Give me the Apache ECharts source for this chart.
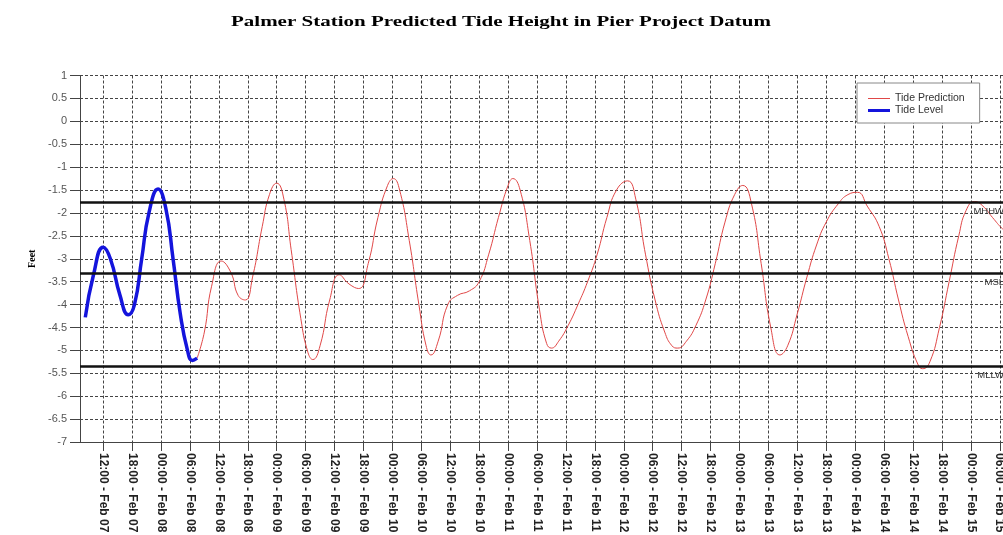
<!DOCTYPE html>
<html><head><meta charset="utf-8">
<script src="https://cdn.jsdelivr.net/npm/echarts@6/dist/echarts.min.js"></script>
<style>html,body{margin:0;padding:0;background:#fff}#c{width:1003px;height:535px}</style>
</head><body><div id="c"></div>
<script>
// hours counted from 00:00 Feb 07
const levelHours = [8.3, 10, 12, 13.5, 15.5, 17.2, 18.5, 20, 21.5, 23.4, 25, 26.5, 28, 29.5, 30.5, 31.5];
const levelFeet  = [-4.28, -3.35, -2.75, -3.0, -3.8, -4.22, -4.0, -3.0, -2.0, -1.48, -1.9, -3.0, -4.2, -5.0, -5.22, -5.17];

const predHours = [31.5, 33, 34.5, 36.5, 38.5, 40, 41.5, 43, 45, 46.5, 48, 49.5, 51, 53, 54.5, 55.5, 57, 59, 61, 63, 65, 67, 69, 71, 72.2, 73.5, 75.5, 77.5, 79, 80, 81.5, 83.5, 85.5, 88, 90, 92, 94, 96, 97, 98.5, 100.5, 102.5, 104, 105, 106.5, 108.5, 110.5, 112.5, 114.5, 116.5, 118.5, 120.8, 122.5, 124.5, 126.5, 128.5, 130, 131.2, 133, 135, 137, 139, 141, 143, 144.7, 146.5, 148.5, 150.5, 152.4, 154, 156, 158, 160, 162, 164.5, 166.5, 168.5, 170.5, 173, 175, 177, 179, 181, 182, 183.5, 185.5, 187.5, 189.5, 191, 192.8, 194.5, 196.5, 198.6, 200.4, 202.2];
const predFeet  = [-5.17, -4.6, -3.6, -3.05, -3.3, -3.8, -3.9, -3.4, -2.3, -1.6, -1.35, -1.7, -2.8, -4.3, -5.05, -5.2, -4.9, -3.9, -3.35, -3.55, -3.65, -3.1, -2.1, -1.4, -1.25, -1.5, -2.6, -4.0, -4.9, -5.1, -4.8, -4.0, -3.8, -3.7, -3.5, -2.9, -2.1, -1.4, -1.25, -1.5, -2.6, -4.1, -4.85, -4.95, -4.8, -4.45, -4.0, -3.5, -2.9, -2.1, -1.5, -1.3, -1.7, -2.9, -3.9, -4.6, -4.9, -4.95, -4.8, -4.45, -3.9, -3.1, -2.2, -1.6, -1.4, -1.8, -3.1, -4.5, -5.1, -4.9, -4.2, -3.4, -2.7, -2.2, -1.8, -1.6, -1.55, -1.85, -2.3, -3.0, -3.9, -4.7, -5.3, -5.4, -5.25, -4.5, -3.5, -2.5, -1.95, -1.75, -1.85, -2.1, -2.35, -2.5, -2.65];

const refNames = ['MHHW', 'MSL', 'MLLW'];
const refFeet  = [-1.77, -3.32, -5.35];

const xTickHours = [12, 18, 24, 30, 36, 42, 48, 54, 60, 66, 72, 78, 84, 90, 96, 102, 108, 114, 120, 126, 132, 138, 144, 150, 156, 162, 168, 174, 180, 186, 192, 198];

const titleText = 'Palmer Station Predicted Tide Height in Pier Project Datum';

function fmtHour(h) {
  const day = 7 + Math.floor(h / 24);
  const hh = h % 24;
  return String(hh).padStart(2, '0') + ':00 - Feb ' + String(day).padStart(2, '0');
}

const chart = echarts.init(document.getElementById('c'), null, {renderer: 'canvas'});
const gridLine = {show: true, lineStyle: {color: '#444', width: 1, type: [3, 2]}};

chart.setOption({
  animation: false,
  backgroundColor: '#fff',
  graphic: [{
    type: 'text', x: 501, y: 22, scaleX: 1.5, scaleY: 1,
    style: {text: titleText, font: 'bold 14px "Liberation Serif", serif', fill: '#000', textAlign: 'center', textVerticalAlign: 'middle'}
  }],
  grid: {left: 80, width: 940, top: 75.5, bottom: 93, containLabel: false, outerBoundsMode: 'none'},
  legend: {
    orient: 'vertical', left: 857, top: 83,
    padding: [10, 15, 7, 11], itemGap: 1, itemWidth: 22, itemHeight: 14,
    backgroundColor: '#fff', borderColor: '#888', borderWidth: 1,
    textStyle: {fontSize: 10.5, color: '#333', fontFamily: '"Liberation Sans", Arial, sans-serif'},
    data: [
      {name: 'Tide Prediction', icon: 'path://M0,0H22V1H0Z'},
      {name: 'Tide Level', icon: 'path://M0,0H22V3H0Z'}
    ]
  },
  xAxis: {
    type: 'value', min: 7.2, max: 202.2,
    axisLine: {show: true, onZero: false, lineStyle: {color: '#444', width: 1}},
    axisTick: {show: true, length: 9, customValues: xTickHours, lineStyle: {color: '#444'}},
    axisLabel: {
      customValues: xTickHours, rotate: -90, margin: 11,
      fontSize: 12, fontWeight: 'bold', color: '#222',
      fontFamily: '"Liberation Sans", Arial, sans-serif',
      formatter: v => fmtHour(v)
    },
    splitLine: gridLine
  },
  yAxis: {
    type: 'value', min: -7, max: 1, interval: 0.5,
    name: 'Feet', nameLocation: 'middle', nameGap: 36, nameRotate: 90,
    nameTextStyle: {fontFamily: '"Liberation Serif", serif', fontWeight: 'bold', fontSize: 10, color: '#000'},
    axisLine: {show: true, onZero: false, lineStyle: {color: '#444', width: 1}},
    axisTick: {show: true, length: 10, lineStyle: {color: '#444'}},
    axisLabel: {fontSize: 11, color: '#555', margin: 13, fontFamily: '"Liberation Sans", Arial, sans-serif'},
    splitLine: gridLine
  },
  series: [
    {
      name: 'Tide Prediction', type: 'line', smooth: 0.5, showSymbol: false, symbol: 'none',
      data: predHours.map((h, i) => [h, predFeet[i]]),
      lineStyle: {color: '#e04848', width: 1}, itemStyle: {color: '#e04848'},
      z: 3,
      markLine: {
        silent: true, symbol: 'none', animation: false,
        lineStyle: {color: '#111', width: 2.5, type: 'solid'},
        label: {show: true, position: 'insideEndBottom', distance: [16, 4], formatter: p => p.name,
                fontSize: 9.5, color: '#333', fontFamily: '"Liberation Sans", Arial, sans-serif'},
        data: refNames.map((n, i) => ({name: n, yAxis: refFeet[i]}))
      }
    },
    {
      name: 'Tide Level', type: 'line', smooth: 0.5, showSymbol: false, symbol: 'none',
      data: levelHours.map((h, i) => [h, levelFeet[i]]),
      lineStyle: {color: '#1414dc', width: 3.5}, itemStyle: {color: '#1414dc'},
      z: 4
    }
  ]
});
</script>
</body></html>
